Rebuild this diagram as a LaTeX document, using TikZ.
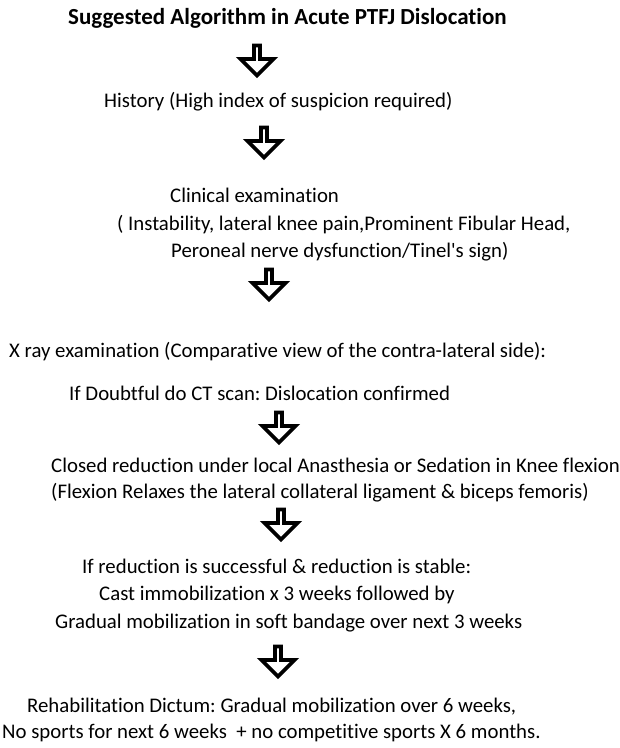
\documentclass[tikz,border=0pt]{standalone}
\usepackage{fontspec}
\setmainfont{Carlito}[Ligatures={TeXOff,NoCommon}]
\usepackage{tikz}
\usetikzlibrary{shapes.arrows}

\begin{document}
\frenchspacing
\begin{tikzpicture}[x=1pt, y=-1pt,
  line/.style={anchor=west, inner sep=0pt, font=\fontsize{20.8}{24}\selectfont},
  headline/.style={line, font=\fontsize{23}{26}\selectfont\bfseries},
  downarrow/.style={single arrow, draw, line width=3.8pt, shape border rotate=270, minimum height=30pt, minimum width=33pt, single arrow head extend=8.5pt, inner sep=0pt}]
  \useasboundingbox (0,0) rectangle (620,748);

  \node [headline] (title) at (68,18) {Suggested Algorithm in Acute PTFJ Dislocation};
  \node [downarrow] (arr1) at (257,59) {};
  \node [line] (hist) at (104,102) {History (High index of suspicion required)};
  \node [downarrow] (arr2) at (264,141) {};

  \node [line] (clin1) at (170,195) {Clinical examination};
  \node [line] (clin2) at (117,225) {( Instability, lateral knee pain,Prominent Fibular Head,};
  \node [line] (clin3) at (171,252) {Peroneal nerve dysfunction/Tinel's sign)};
  \node [downarrow] (arr3) at (269,283) {};

  \node [line] (xray) at (9,352) {X ray examination (Comparative view of the contra-lateral side):};
  \node [line] (ct) at (69,393) {If Doubtful do CT scan: Dislocation confirmed};
  \node [downarrow] (arr4) at (279,426) {};

  \node [line] (red1) at (51,465) {Closed reduction under local Anasthesia or Sedation in Knee flexion};
  \node [line] (red2) at (51,493) {(Flexion Relaxes the lateral collateral ligament \& biceps femoris)};
  \node [downarrow] (arr5) at (281,523) {};

  \node [line] (stab1) at (82,566) {If reduction is successful \& reduction is stable:};
  \node [line] (stab2) at (99,595) {Cast immobilization x 3 weeks followed by};
  \node [line] (stab3) at (55,623) {Gradual mobilization in soft bandage over next 3 weeks};
  \node [downarrow] (arr6) at (278,660) {};

  \node [line] (rehab1) at (27,707) {Rehabilitation Dictum: Gradual mobilization over 6 weeks,};
  \node [line] (rehab2) at (2,733) {No sports for next 6 weeks \ + no competitive sports X 6 months.};
\end{tikzpicture}
\end{document}
